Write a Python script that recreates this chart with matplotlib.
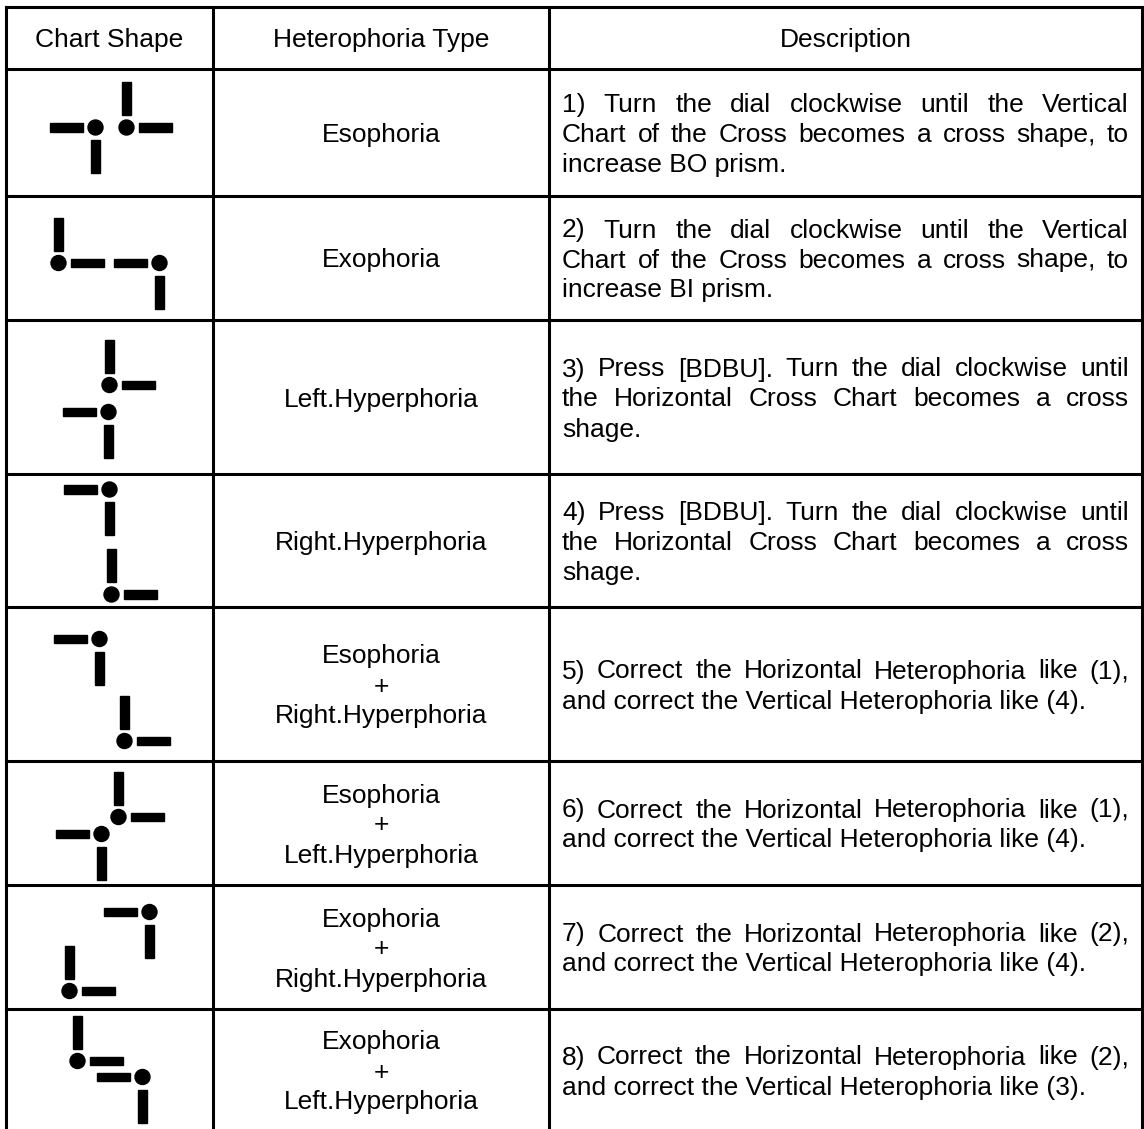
import numpy as np
import matplotlib.pyplot as plt
from matplotlib.patches import Rectangle, Circle

plt.rcParams['font.family'] = ['Liberation Sans', 'DejaVu Sans']

W, H = 1144, 1129

headers = ["Chart Shape", "Heterophoria Type", "Description"]

types = [
    ["Esophoria"],
    ["Exophoria"],
    ["Left.Hyperphoria"],
    ["Right.Hyperphoria"],
    ["Esophoria", "+", "Right.Hyperphoria"],
    ["Esophoria", "+", "Left.Hyperphoria"],
    ["Exophoria", "+", "Right.Hyperphoria"],
    ["Exophoria", "+", "Left.Hyperphoria"],
]

descriptions = [
    ["1) Turn the dial clockwise until the Vertical",
     "Chart of the Cross becomes a cross shape, to",
     "increase BO prism."],
    ["2) Turn the dial clockwise until the Vertical",
     "Chart of the Cross becomes a cross shape, to",
     "increase BI prism."],
    ["3) Press [BDBU]. Turn the dial clockwise until",
     "the Horizontal Cross Chart becomes a cross",
     "shage."],
    ["4) Press [BDBU]. Turn the dial clockwise until",
     "the Horizontal Cross Chart becomes a cross",
     "shage."],
    ["5) Correct the Horizontal Heterophoria like (1),",
     "and correct the Vertical Heterophoria like (4)."],
    ["6) Correct the Horizontal Heterophoria like (1),",
     "and correct the Vertical Heterophoria like (4)."],
    ["7) Correct the Horizontal Heterophoria like (2),",
     "and correct the Vertical Heterophoria like (4)."],
    ["8) Correct the Horizontal Heterophoria like (2),",
     "and correct the Vertical Heterophoria like (3)."],
]

# each chart shape = two dots; one carries a left + down bar, the other an
# up + right bar. offsets of the dots from the cell centre, in pixels
ld_dots = [(-14, -5), (50, 5), (-1, 15), (0, -51), (-10, -45), (-8, 11), (40, -35), (33, 7)]
ur_dots = [(17, -5), (-51, 5), (0, -12), (2, 54), (15, 57), (9, -6), (-40, 44), (-32, -9)]

# table grid (pixels)
row_edges = [7, 69, 196, 320, 474, 607, 761, 885, 1009, 1131]
col_edges = [6, 213, 549, 1142]
desc_left, desc_right = 562, 1129

FS = 19
LINE = 30
HALF_CAP = 9.5
GRID_LW = 2.2

BAR_LEN, BAR_TH, BAR_GAP, DOT_R = 33, 8.5, 12.5, 7.5


def baselines(cy, n):
    return [cy + HALF_CAP + (i - (n - 1) / 2) * LINE for i in range(n)]


def draw_chart(ax, cx, cy, ld, ur):
    x, y = cx + ld[0], cy + ld[1]
    ax.add_patch(Circle((x, y), DOT_R, color='black'))
    ax.add_patch(Rectangle((x - BAR_GAP - BAR_LEN, y - BAR_TH / 2), BAR_LEN, BAR_TH, color='black'))
    ax.add_patch(Rectangle((x - BAR_TH / 2, y + BAR_GAP), BAR_TH, BAR_LEN, color='black'))
    x, y = cx + ur[0], cy + ur[1]
    ax.add_patch(Circle((x, y), DOT_R, color='black'))
    ax.add_patch(Rectangle((x + BAR_GAP, y - BAR_TH / 2), BAR_LEN, BAR_TH, color='black'))
    ax.add_patch(Rectangle((x - BAR_TH / 2, y - BAR_GAP - BAR_LEN), BAR_TH, BAR_LEN, color='black'))


def draw_justified(ax, renderer, line, y):
    words = line.split()
    widths = []
    for w in words:
        t = ax.text(0, 0, w, fontsize=FS)
        widths.append(t.get_window_extent(renderer).width)
        t.remove()
    gap = (desc_right - desc_left - sum(widths)) / (len(words) - 1)
    x = desc_left
    for w, wd in zip(words, widths):
        ax.text(x, y, w, fontsize=FS, ha='left', va='baseline')
        x += wd + gap


def main():
    fig = plt.figure(figsize=(W / 100, H / 100), dpi=100)
    ax = fig.add_axes([0, 0, 1, 1])
    ax.set_xlim(0, W)
    ax.set_ylim(H, 0)
    ax.axis('off')
    renderer = fig.canvas.get_renderer()

    # grid
    for yy in row_edges:
        ax.plot([col_edges[0], col_edges[-1]], [yy, yy], color='black', lw=GRID_LW,
                solid_capstyle='projecting')
    for xx in col_edges:
        ax.plot([xx, xx], [row_edges[0], row_edges[-1]], color='black', lw=GRID_LW,
                solid_capstyle='projecting')

    col_centers = [(col_edges[i] + col_edges[i + 1]) / 2 for i in range(3)]

    # header
    hy = baselines((row_edges[0] + row_edges[1]) / 2, 1)[0]
    for c, h in zip(col_centers, headers):
        ax.text(c, hy, h, fontsize=FS, ha='center', va='baseline')

    for i in range(len(types)):
        cy = (row_edges[i + 1] + row_edges[i + 2]) / 2
        draw_chart(ax, col_centers[0], cy, ld_dots[i], ur_dots[i])

        for s, by in zip(types[i], baselines(cy, len(types[i]))):
            ax.text(col_centers[1], by, s, fontsize=FS, ha='center', va='baseline')

        lines = descriptions[i]
        for j, (s, by) in enumerate(zip(lines, baselines(cy, len(lines)))):
            if j < len(lines) - 1:
                draw_justified(ax, renderer, s, by)
            else:
                ax.text(desc_left, by, s, fontsize=FS, ha='left', va='baseline')

    fig.savefig("out.png", dpi=100)


if __name__ == "__main__":
    main()
